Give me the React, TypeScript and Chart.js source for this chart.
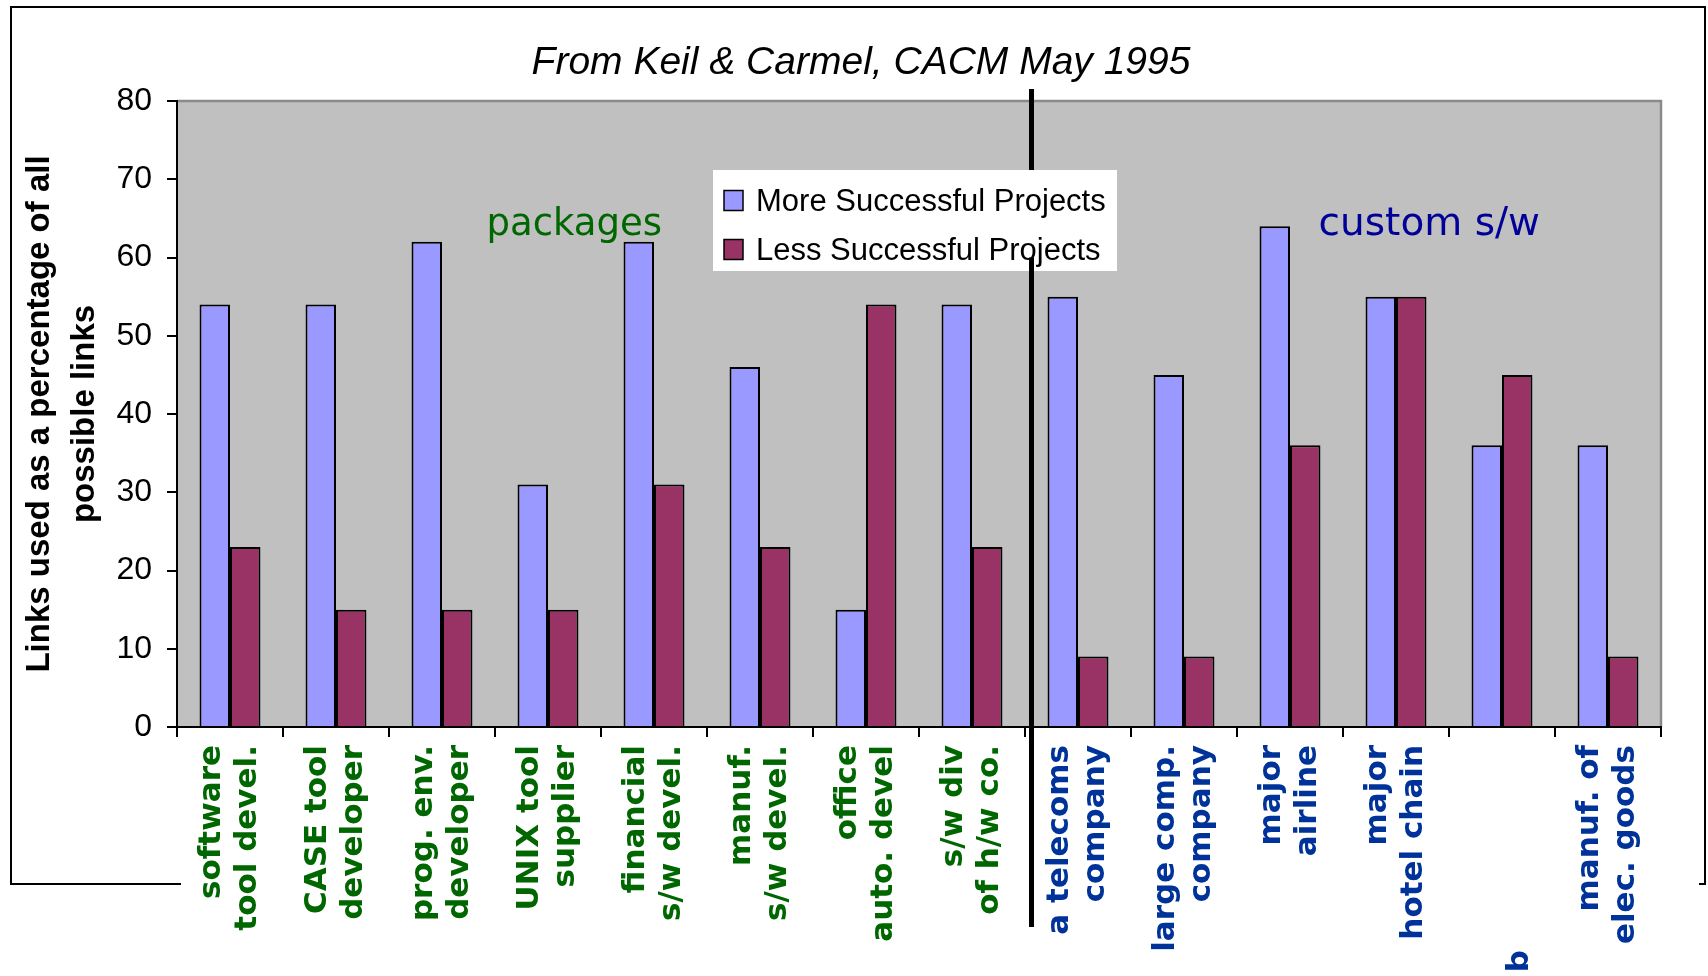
import React, { useEffect, useRef } from "react";
import { Chart, registerables } from "chart.js";

Chart.register(...registerables);

// ---------- data ----------
const categories: string[][] = [
  ["software", "tool devel."],
  ["CASE tool", "developer"],
  ["prog. env.", "developer"],
  ["UNIX tool", "supplier"],
  ["financial", "s/w devel."],
  ["manuf.", "s/w devel."],
  ["office", "auto. devel"],
  ["s/w div", "of h/w co."],
  ["a telecoms", "company"],
  ["large comp.", "company"],
  ["major", "airline"],
  ["major", "hotel chain"],
  ["", "b" + " ".repeat(19)],
  ["manuf. of", "elec. goods"],
];
const packageCount = 8;

const moreSuccessful = [54, 54, 62, 31, 62, 46, 15, 54, 55, 45, 64, 55, 36, 36];
const lessSuccessful = [23, 15, 15, 15, 31, 23, 54, 23, 9, 9, 36, 55, 45, 9];

const seriesLabels = ["More Successful Projects", "Less Successful Projects"];
const seriesColors = ["#9999FF", "#993366"];

const yMin = 0;
const yMax = 80;
const yStep = 10;

const chartTitle = "From Keil & Carmel, CACM May 1995";
const yTitle = ["Links used as a percentage of all", "possible links"];
const groupLabels = ["packages", "custom s/w"];

const GREEN = "#006600";
const BLUE = "#003399";
const DARKBLUE = "#000099";

const decorPlugin = {
  id: "decor",
  beforeDraw(chart: any) {
    const { ctx, chartArea: a, width, height } = chart;
    ctx.save();
    ctx.fillStyle = "#ffffff";
    ctx.fillRect(0, 0, width, height);
    // outer frame
    ctx.strokeStyle = "#000";
    ctx.lineWidth = 2;
    ctx.beginPath();
    ctx.moveTo(a.left + 4, 884);
    ctx.lineTo(11, 884);
    ctx.lineTo(11, 7);
    ctx.lineTo(1705, 7);
    ctx.lineTo(1705, 884);
    ctx.lineTo(1699, 884);
    ctx.stroke();
    // plot background
    ctx.fillStyle = "#C0C0C0";
    ctx.fillRect(a.left, a.top, a.right - a.left, a.bottom - a.top);
    ctx.strokeStyle = "#8a8a8a";
    ctx.lineWidth = 2.5;
    ctx.beginPath();
    ctx.moveTo(a.left, a.top);
    ctx.lineTo(a.right, a.top);
    ctx.lineTo(a.right, a.bottom);
    ctx.stroke();
    ctx.restore();
  },
  afterDatasetsDraw(chart: any) {
    const { ctx, scales } = chart;
    const x = scales.x;
    const y = scales.y;
    ctx.save();
    ctx.textAlign = "left";
    ctx.textBaseline = "alphabetic";
    ctx.fillStyle = GREEN;
    ctx.font = "37px 'DejaVu Sans'";
    ctx.fillText(groupLabels[0], x.getPixelForValue(2.42), y.getPixelForValue(62.9));
    ctx.fillStyle = DARKBLUE;
    ctx.font = "39px 'DejaVu Sans'";
    ctx.fillText(groupLabels[1], x.getPixelForValue(10.27), y.getPixelForValue(62.9));
    ctx.restore();
  },
  afterDraw(chart: any) {
    const { ctx, scales, chartArea: a } = chart;
    const x = scales.x;
    const y = scales.y;
    ctx.save();
    // title
    ctx.fillStyle = "#000";
    ctx.font = "italic 39px 'Liberation Sans'";
    ctx.textAlign = "center";
    ctx.textBaseline = "middle";
    ctx.fillText(chartTitle, 861, 63.5);

    // divider
    const dx = x.getPixelForValue(packageCount - 0.5) + 6.5;
    ctx.strokeStyle = "#000";
    ctx.lineWidth = 5;
    ctx.beginPath();
    ctx.moveTo(dx, a.top - 12);
    ctx.lineTo(dx, 927);
    ctx.stroke();

    // legend
    ctx.fillStyle = "#fff";
    ctx.fillRect(713, 170, 404, 101);
    const rows = [201, 250];
    ctx.font = "31px 'Liberation Sans'";
    ctx.textAlign = "left";
    ctx.textBaseline = "middle";
    for (let i = 0; i < 2; i++) {
      ctx.fillStyle = seriesColors[i];
      ctx.fillRect(724, rows[i] - 10.5, 19, 20);
      ctx.strokeStyle = "#000";
      ctx.lineWidth = 1.5;
      ctx.strokeRect(724, rows[i] - 10.5, 19, 20);
      ctx.fillStyle = "#000";
      ctx.fillText(seriesLabels[i], 756, rows[i] + 1);
    }

    // divider lower segment drawn over legend
    ctx.strokeStyle = "#000";
    ctx.lineWidth = 5;
    ctx.beginPath();
    ctx.moveTo(dx, y.getPixelForValue(60));
    ctx.lineTo(dx, 927);
    ctx.stroke();
    ctx.restore();
  },
};

export default function App() {
  const ref = useRef<HTMLCanvasElement | null>(null);
  useEffect(() => {
    if (!ref.current) return;
    const chart = new Chart(ref.current, {
      type: "bar",
      data: {
        labels: categories,
        datasets: [
          {
            label: seriesLabels[0],
            data: moreSuccessful,
            backgroundColor: seriesColors[0],
            borderColor: "#000",
            borderWidth: 2,
            categoryPercentage: 0.575,
            barPercentage: 1,
          },
          {
            label: seriesLabels[1],
            data: lessSuccessful,
            backgroundColor: seriesColors[1],
            borderColor: "#000",
            borderWidth: 2,
            categoryPercentage: 0.575,
            barPercentage: 1,
          },
        ],
      },
      options: {
        responsive: false,
        animation: false,
        devicePixelRatio: 1,
        layout: { padding: { top: 101, right: 47, left: 0, bottom: 0 } },
        plugins: {
          legend: { display: false },
          title: { display: false },
          tooltip: { enabled: false },
        },
        scales: {
          x: {
            afterFit: (s: any) => {
              s.height = 249;
            },
            grid: {
              display: true,
              drawOnChartArea: false,
              drawTicks: true,
              tickLength: 10,
              color: "#000",
              lineWidth: 2,
              offset: true,
            },
            border: { display: true, color: "#000", width: 2 },
            ticks: {
              autoSkip: false,
              minRotation: 90,
              maxRotation: 90,
              padding: 8,
              labelOffset: -18,
              font: { family: "'DejaVu Sans'", size: 31, weight: "bold", lineHeight: 1.16 },
              color: (c: any) => (c.index < packageCount ? GREEN : BLUE),
            },
          },
          y: {
            min: yMin,
            max: yMax,
            afterFit: (s: any) => {
              s.width = 177;
            },
            grid: {
              display: true,
              drawOnChartArea: false,
              drawTicks: true,
              tickLength: 10,
              color: "#000",
              lineWidth: 2,
            },
            border: { display: true, color: "#000", width: 2 },
            ticks: {
              stepSize: yStep,
              padding: 15,
              color: "#000",
              font: { family: "'Liberation Sans'", size: 32 },
            },
            title: {
              display: true,
              text: yTitle,
              color: "#000",
              padding: { top: 17.5, bottom: 0 },
              font: { family: "'Liberation Sans'", size: 33, weight: "bold", lineHeight: 1.36 },
            },
          },
        },
      },
      plugins: [decorPlugin],
    });
    return () => chart.destroy();
  }, []);
  return (
    <div style={{ position: "fixed", left: 0, top: 0, width: 1708, height: 976 }}>
      <canvas ref={ref} width={1708} height={976} style={{ display: "block" }} />
    </div>
  );
}
